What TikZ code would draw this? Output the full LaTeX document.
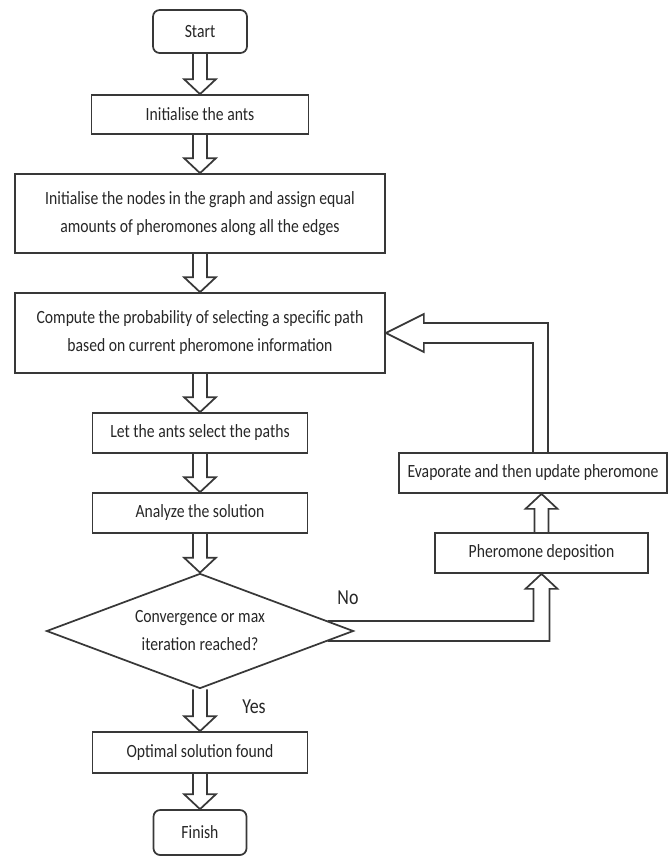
\documentclass[tikz,border=0pt]{standalone}
\usepackage{fontspec}
\setmainfont{Carlito}[FakeStretch=0.84]
\usepackage{tikz}
\usetikzlibrary{shapes.geometric}
\usetikzlibrary{calc}

\tikzset{
  box/.style={draw=black!78, line width=1.3pt, text=black!85, align=center, inner sep=0pt,
    font=\fontsize{14pt}{21pt}\selectfont},
  roundbox/.style={box, rounded corners=5pt},
  hollow/.style={draw=black!78, line width=1.3pt, line join=miter},
  answer/.style={text=black!85, font=\fontsize{16pt}{19pt}\selectfont},
}
% hollow block arrows between two boxes
\newcommand{\hollowdown}[2]{%
  \draw[hollow] let \p1=(#1.south), \p2=(#2.north) in
    (\x1-5.25pt,\y1) -- (\x1-5.25pt,\y2+11.25pt) -- (\x1-12pt,\y2+11.25pt) -- (\x1,\y2)
    -- (\x1+12pt,\y2+11.25pt) -- (\x1+5.25pt,\y2+11.25pt) -- (\x1+5.25pt,\y1);
}
\newcommand{\hollowup}[2]{%
  \draw[hollow] let \p1=(#1.north), \p2=(#2.south) in
    (\x1-5.25pt,\y1) -- (\x1-5.25pt,\y2-11.25pt) -- (\x1-12pt,\y2-11.25pt) -- (\x1,\y2)
    -- (\x1+12pt,\y2-11.25pt) -- (\x1+5.25pt,\y2-11.25pt) -- (\x1+5.25pt,\y1);
}

\begin{document}
\begin{tikzpicture}[x=0.75pt,y=-0.75pt]
\useasboundingbox (0,0) rectangle (669,864);
\draw
(200,31.5) node[roundbox,minimum width=70.5pt,minimum height=32.25pt](start){Start}
(200,114.5) node[box,minimum width=162.75pt,minimum height=29.25pt](ants){Initialise the ants}
(200,213.5) node[box,minimum width=277.5pt,minimum height=59.25pt](nodes){Initialise the nodes in the graph and assign equal\\amounts of pheromones along all the edges}
(200,333) node[box,minimum width=277.5pt,minimum height=60pt](comp){Compute the probability of selecting a specific path\\based on current pheromone information}
(200,433) node[box,minimum width=161.25pt,minimum height=30pt](paths){Let the ants select the paths}
(200,513) node[box,minimum width=161.25pt,minimum height=30pt](analyze){Analyze the solution}
(200,631) node[box,diamond,aspect=2.67,minimum width=230.25pt,minimum height=86.25pt](check){Convergence or max\\iteration reached?}
(200,752.5) node[box,minimum width=161.25pt,minimum height=30.75pt](optimal){Optimal solution found}
(200,832.5) node[roundbox,minimum width=69.75pt,minimum height=33.75pt](finish){Finish}
(533,473) node[box,minimum width=201pt,minimum height=30pt](evap){Evaporate and then update pheromone}
(541.5,553) node[box,minimum width=159.75pt,minimum height=30pt](pher){Pheromone deposition}
(348,598) node[answer](no){No}
(254,707) node[answer](yes){Yes}
;
\foreach \a/\b in {start/ants, ants/nodes, nodes/comp, comp/paths, paths/analyze,
analyze/check, check/optimal, optimal/finish}{
\hollowdown{\a}{\b}
}
\hollowup{pher}{evap}
% No branch
\draw[hollow] let \p1=(check.east), \p2=(pher.south) in
(\x1-20pt,\y1+7.5pt) -- (\x2-6pt,\y1+7.5pt) -- (\x2-6pt,\y2-11.25pt) -- (\x2-12pt,\y2-11.25pt)
-- (\x2,\y2) -- (\x2+12pt,\y2-11.25pt) -- (\x2+6pt,\y2-11.25pt) -- (\x2+6pt,\y1-7.5pt)
-- (\x1-20pt,\y1-7.5pt);
% back to the probabilities
\draw[hollow] let \p1=(evap.north), \p2=(comp.east) in
(\x1,\y1) -- (\x1,\y2-7.5pt) -- (\x2+28.5pt,\y2-7.5pt) -- (\x2+28.5pt,\y2-14.25pt) -- (\x2,\y2)
-- (\x2+28.5pt,\y2+14.25pt) -- (\x2+28.5pt,\y2+7.5pt) -- (\x1+11.25pt,\y2+7.5pt) -- (\x1+11.25pt,\y1);
\end{tikzpicture}
\end{document}
